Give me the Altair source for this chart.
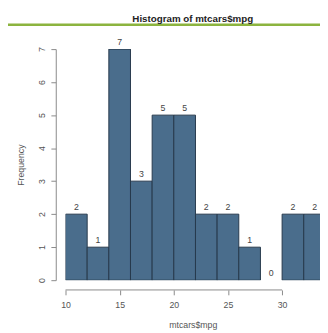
import altair as alt
import pandas as pd

bin_start = [10, 12, 14, 16, 18, 20, 22, 24, 26, 28, 30, 32]
bin_end = [12, 14, 16, 18, 20, 22, 24, 26, 28, 30, 32, 34]
counts = [2, 1, 7, 3, 5, 5, 2, 2, 1, 0, 2, 2]
x_ticks = [10, 15, 20, 25, 30]
y_ticks = [0, 1, 2, 3, 4, 5, 6, 7]

df = pd.DataFrame({"start": bin_start, "end": bin_end, "count": counts})
df["mid"] = [(a + b) / 2 for a, b in zip(bin_start, bin_end)]

FONT = "Liberation Sans"
GRAY = "#555555"

xscale = alt.Scale(domain=[10, 33.5], nice=False, zero=False)
yscale = alt.Scale(domain=[0, 7], nice=False)

xaxis = alt.Axis(values=x_ticks, title="mtcars$mpg", domain=False,
                 offset=10, tickSize=5, tickColor="#888888",
                 labelColor=GRAY, labelFontSize=9, labelFont=FONT,
                 labelPadding=6, titleColor=GRAY, titleFontSize=9,
                 titleFont=FONT, titleFontWeight="normal",
                 titlePadding=12, grid=False, labelFlush=False,
                 labelOverlap=False)
yaxis = alt.Axis(values=y_ticks, title="Frequency", offset=10,
                 tickSize=5, tickColor="#888888", domainColor="#888888",
                 labelColor=GRAY, labelFontSize=9, labelFont=FONT,
                 labelAngle=270, labelPadding=10, labelBaseline="middle",
                 labelAlign="center", labelOverlap=False, tickCount=8,
                 titleColor=GRAY, titleFontSize=9, titleFont=FONT,
                 titleFontWeight="normal", titlePadding=12, grid=False)

bars = alt.Chart(df[df["count"] > 0]).mark_rect(
    fill="#4a6d8c", stroke="#26394b", strokeWidth=1, clip=True
).encode(
    x=alt.X("start:Q", scale=xscale, axis=xaxis),
    x2="end:Q",
    y=alt.Y("count:Q", scale=yscale, axis=yaxis),
    y2=alt.datum(0),
)

labels = alt.Chart(df).mark_text(
    baseline="bottom", dy=-2, fontSize=9, font=FONT, color="#444444"
).encode(
    x=alt.X("mid:Q", scale=xscale, axis=xaxis),
    y=alt.Y("count:Q", scale=yscale, axis=yaxis),
    text="count:Q",
)

axis_line = alt.Chart(pd.DataFrame({"a": [x_ticks[0]], "b": [x_ticks[-1]]})).mark_rule(
    color="#888888", strokeWidth=1
).encode(
    x=alt.X("a:Q", scale=xscale, axis=xaxis),
    x2="b:Q",
    y=alt.value(247),
)

green = alt.Chart(pd.DataFrame({"a": [0]})).mark_rule(
    color="#8cb43f", strokeWidth=2.5
).encode(
    x=alt.value(-60), x2=alt.value(270), y=alt.value(-25)
)

chart = alt.layer(green, bars, labels, axis_line).properties(
    width=261, height=237,
    padding={"left": 59, "top": 38, "right": 0, "bottom": 50},
    autosize=alt.AutoSizeParams(type="none"),
    title=alt.TitleParams("Histogram of mtcars$mpg", fontSize=10, font=FONT,
                          fontWeight="bold", color="#222222", anchor="middle",
                          offset=0),
).configure_view(stroke=None)

chart.save("out.html", embed_options={"renderer": "svg", "actions": False})
